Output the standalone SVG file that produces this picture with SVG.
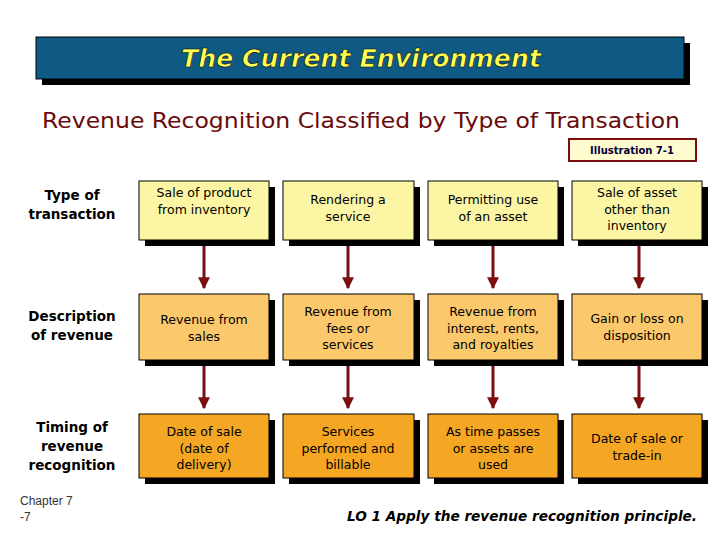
<svg xmlns="http://www.w3.org/2000/svg" width="720" height="540" viewBox="0 0 720 540">
<defs>
<marker id="ah" viewBox="0 0 10 10" refX="9" refY="5" markerWidth="4" markerHeight="4" orient="auto" markerUnits="strokeWidth"><path d="M0,0 L10,5 L0,10 z" fill="#7a0f0f"/></marker>
</defs>
<style>
.sh{fill:#000}
.b{stroke:#000;stroke-width:1}
.r1{fill:#fbf5a4}.r2{fill:#fbc96b}.r3{fill:#f5a623}
.t{font-family:"DejaVu Sans",sans-serif;font-size:12.5px;text-anchor:middle;fill:#000}
.lab{font-family:"DejaVu Sans",sans-serif;font-size:13.5px;font-weight:bold;text-anchor:middle;fill:#000}
.con line{stroke:#7a0f0f;stroke-width:3;marker-end:url(#ah)}
</style>
<rect width="720" height="540" fill="#fff"/>
<g id="title">
<rect x="42" y="43" width="648" height="42" class="sh"/>
<rect x="36" y="37" width="648" height="42" fill="#0e5a84" stroke="#000"/>
<text x="361" y="67" font-family="DejaVu Sans,sans-serif" font-style="italic" font-weight="bold" font-size="25" fill="#ffff55" stroke="#000" stroke-width="0.6" text-anchor="middle" textLength="360" lengthAdjust="spacingAndGlyphs">The Current Environment</text>
</g>
<text x="361" y="128" font-family="DejaVu Sans,sans-serif" font-size="21" fill="#6a0a0a" text-anchor="middle" textLength="638" lengthAdjust="spacingAndGlyphs">Revenue Recognition Classified by Type of Transaction</text>
<g id="illus">
<rect x="569" y="139" width="127" height="22" fill="#fffbd0" stroke="#7a0f0f" stroke-width="2"/>
<text x="632" y="154" font-family="DejaVu Sans,sans-serif" font-size="10" font-weight="bold" fill="#000033" text-anchor="middle">Illustration 7-1</text>
</g>
<g id="labels">
<text class="lab" x="72" y="200">Type of</text><text class="lab" x="72" y="219">transaction</text>
<text class="lab" x="72" y="321">Description</text><text class="lab" x="72" y="340">of revenue</text>
<text class="lab" x="72" y="432">Timing of</text><text class="lab" x="72" y="451">revenue</text><text class="lab" x="72" y="470">recognition</text>
</g>
<g id="row1">
<g id="n11"><rect x="145" y="187" width="130" height="59" class="sh"/><rect x="139" y="181" width="130" height="59" class="r1 b"/><text class="t" x="204" y="197">Sale of product</text><text class="t" x="204" y="214">from inventory</text></g>
<g id="n12"><rect x="289" y="187" width="131" height="59" class="sh"/><rect x="283" y="181" width="131" height="59" class="r1 b"/><text class="t" x="348" y="204">Rendering a</text><text class="t" x="348" y="221">service</text></g>
<g id="n13"><rect x="434" y="187" width="130" height="59" class="sh"/><rect x="428" y="181" width="130" height="59" class="r1 b"/><text class="t" x="493" y="204">Permitting use</text><text class="t" x="493" y="221">of an asset</text></g>
<g id="n14"><rect x="578" y="187" width="130" height="59" class="sh"/><rect x="572" y="181" width="130" height="59" class="r1 b"/><text class="t" x="637" y="197">Sale of asset</text><text class="t" x="637" y="214">other than</text><text class="t" x="637" y="230">inventory</text></g>
</g>
<g id="row2">
<g id="n21"><rect x="145" y="300" width="130" height="66" class="sh"/><rect x="139" y="294" width="130" height="66" class="r2 b"/><text class="t" x="204" y="324">Revenue from</text><text class="t" x="204" y="341">sales</text></g>
<g id="n22"><rect x="289" y="300" width="131" height="66" class="sh"/><rect x="283" y="294" width="131" height="66" class="r2 b"/><text class="t" x="348" y="316">Revenue from</text><text class="t" x="348" y="333">fees or</text><text class="t" x="348" y="349">services</text></g>
<g id="n23"><rect x="434" y="300" width="130" height="66" class="sh"/><rect x="428" y="294" width="130" height="66" class="r2 b"/><text class="t" x="493" y="316">Revenue from</text><text class="t" x="493" y="333">interest, rents,</text><text class="t" x="493" y="349">and royalties</text></g>
<g id="n24"><rect x="578" y="300" width="130" height="66" class="sh"/><rect x="572" y="294" width="130" height="66" class="r2 b"/><text class="t" x="637" y="323">Gain or loss on</text><text class="t" x="637" y="340">disposition</text></g>
</g>
<g id="row3">
<g id="n31"><rect x="145" y="420" width="130" height="64" class="sh"/><rect x="139" y="414" width="130" height="64" class="r3 b"/><text class="t" x="204" y="436">Date of sale</text><text class="t" x="204" y="453">(date of</text><text class="t" x="204" y="469">delivery)</text></g>
<g id="n32"><rect x="289" y="420" width="131" height="64" class="sh"/><rect x="283" y="414" width="131" height="64" class="r3 b"/><text class="t" x="348" y="436">Services</text><text class="t" x="348" y="453">performed and</text><text class="t" x="348" y="469">billable</text></g>
<g id="n33"><rect x="434" y="420" width="130" height="64" class="sh"/><rect x="428" y="414" width="130" height="64" class="r3 b"/><text class="t" x="493" y="436">As time passes</text><text class="t" x="493" y="453">or assets are</text><text class="t" x="493" y="469">used</text></g>
<g id="n34"><rect x="578" y="420" width="130" height="64" class="sh"/><rect x="572" y="414" width="130" height="64" class="r3 b"/><text class="t" x="637" y="443">Date of sale or</text><text class="t" x="637" y="460">trade-in</text></g>
</g>
<g id="connectors" class="con">
<line x1="204" y1="246" x2="204" y2="288"/><line x1="348" y1="246" x2="348" y2="288"/><line x1="493" y1="246" x2="493" y2="288"/><line x1="639" y1="246" x2="639" y2="288"/>
<line x1="204" y1="366" x2="204" y2="408"/><line x1="348" y1="366" x2="348" y2="408"/><line x1="493" y1="366" x2="493" y2="408"/><line x1="639" y1="366" x2="639" y2="408"/>
</g>
<text x="20" y="505" font-family="Liberation Sans,sans-serif" font-size="12" fill="#333">Chapter 7</text>
<text x="20" y="521" font-family="Liberation Sans,sans-serif" font-size="12" fill="#333">-7</text>
<text x="522" y="521" font-family="DejaVu Sans,sans-serif" font-style="italic" font-weight="bold" font-size="14" fill="#000" text-anchor="middle" textLength="350" lengthAdjust="spacingAndGlyphs">LO 1  Apply the revenue recognition principle.</text>
</svg>
